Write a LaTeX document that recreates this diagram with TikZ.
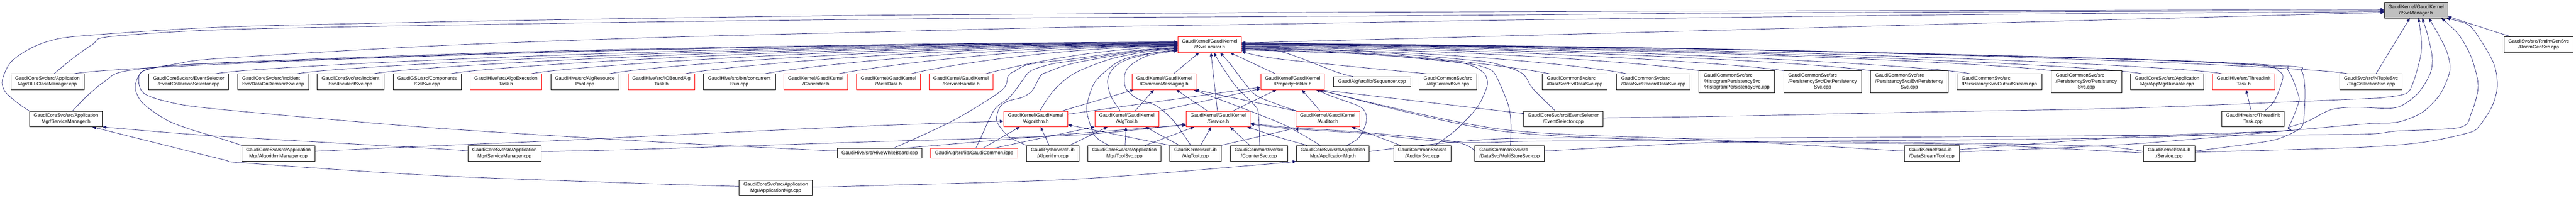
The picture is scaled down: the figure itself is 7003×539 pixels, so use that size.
\documentclass[tikz,border=0pt]{standalone}
\usepackage{fontspec}
\setmainfont{Liberation Sans}
\usetikzlibrary{arrows.meta,backgrounds}
\definecolor{edgeblue}{RGB}{25,25,112}
\definecolor{rootgray}{RGB}{191,191,191}
\newcommand\nfont{\fontsize{13.2pt}{16.2pt}\selectfont}
\newcommand\labC[2]{\begin{tabular}{@{}c@{}}#1\\#2\end{tabular}}
\newcommand\labL[2]{\begin{tabular}{@{}l@{}}#1\\#2\end{tabular}}
\newcommand\labT[3]{\begin{tabular}{@{}l@{}}#1\\#2\\\multicolumn{1}{@{}c@{}}{#3}\end{tabular}}
\tikzset{
  nb/.style={draw=black, fill=white, line width=1pt, inner sep=0pt, minimum height=42.5pt, font=\nfont, text=black},
  nr/.style={nb, draw=red},
  one/.style={minimum height=27pt},
  three/.style={minimum height=59pt},
  lnk/.style={draw=edgeblue, line width=1pt, line join=round, -{Triangle[length=10pt,width=8pt]}},
}
\begin{document}
\begin{tikzpicture}[x=1pt,y=-1pt]
\useasboundingbox (0,0) rectangle (7003,539);
\begin{scope}[on background layer]
\fill[white] (0,0) rectangle (7003,539);
\end{scope}
% rank 0
\node[nb, fill=rootgray, minimum width=172pt] (svcmgr) at (6568,28) {\labC{GaudiKernel/GaudiKernel}{/ISvcManager.h}};
% rank 1
\node[nr, minimum width=173pt] (svcloc) at (3288.5,121.5) {\labC{GaudiKernel/GaudiKernel}{/ISvcLocator.h}};
\node[nb, minimum width=187pt] (rndm) at (6901.5,121.5) {\labC{GaudiSvc/src/RndmGenSvc}{/RndmGenSvc.cpp}};
% rank 2
\node[nb, minimum width=199pt] (dllcm) at (129,222.5) {\labC{GaudiCoreSvc/src/Application}{Mgr/DLLClassManager.cpp}};
\node[nb, minimum width=217pt] (evcolsel) at (513,222.5) {\labC{GaudiCoreSvc/src/EventSelector}{/EventCollectionSelector.cpp}};
\node[nb, minimum width=193pt] (dod) at (742.5,222.5) {\labL{GaudiCoreSvc/src/Incident}{Svc/DataOnDemandSvc.cpp}};
\node[nb, minimum width=181pt] (incsvc) at (953,222.5) {\labC{GaudiCoreSvc/src/Incident}{Svc/IncidentSvc.cpp}};
\node[nb, minimum width=185pt] (gsl) at (1161,222.5) {\labC{GaudiGSL/src/Components}{/GslSvc.cpp}};
\node[nr, minimum width=195pt] (algoexec) at (1375.4,222.5) {\labC{GaudiHive/src/AlgoExecution}{Task.h}};
\node[nb, minimum width=185pt] (algres) at (1590,222.5) {\labC{GaudiHive/src/AlgResource}{Pool.cpp}};
\node[nr, minimum width=181pt] (iobound) at (1798,222.5) {\labC{GaudiHive/src/IOBoundAlg}{Task.h}};
\node[nb, minimum width=196pt] (concrun) at (2010,222.5) {\labC{GaudiHive/src/bin/concurrent}{Run.cpp}};
\node[nr, minimum width=174pt] (converter) at (2218,222.5) {\labC{GaudiKernel/GaudiKernel}{/Converter.h}};
\node[nr, minimum width=174pt] (metadata) at (2415.5,222.5) {\labC{GaudiKernel/GaudiKernel}{/MetaData.h}};
\node[nr, minimum width=173pt] (svchandle) at (2612.7,222.5) {\labC{GaudiKernel/GaudiKernel}{/ServiceHandle.h}};
\node[nr, minimum width=173pt] (commsg) at (3164.7,222.5) {\labC{GaudiKernel/GaudiKernel}{/CommonMessaging.h}};
\node[nr, minimum width=173pt] (propholder) at (3514,222.5) {\labC{GaudiKernel/GaudiKernel}{/PropertyHolder.h}};
\node[nb, one, minimum width=209.5pt] (sequencer) at (3730,222.5) {GaudiAlg/src/lib/Sequencer.cpp};
\node[nb, minimum width=157pt] (algctx) at (3936.5,222.5) {\labC{GaudiCommonSvc/src}{/AlgContextSvc.cpp}};
\node[nb, minimum width=177pt] (evtdata) at (4281,222.5) {\labL{GaudiCommonSvc/src}{/DataSvc/EvtDataSvc.cpp}};
\node[nb, minimum width=200pt] (recdata) at (4494.7,222.5) {\labL{GaudiCommonSvc/src}{/DataSvc/RecordDataSvc.cpp}};
\node[nb, three, minimum width=205pt] (histpers) at (4721.4,222.5) {\labT{GaudiCommonSvc/src}{/HistogramPersistencySvc}{/HistogramPersistencySvc.cpp}};
\node[nb, three, minimum width=212pt] (detpers) at (4954.7,222.5) {\labT{GaudiCommonSvc/src}{/PersistencySvc/DetPersistency}{Svc.cpp}};
\node[nb, three, minimum width=212pt] (evtpers) at (5190.5,222.5) {\labT{GaudiCommonSvc/src}{/PersistencySvc/EvtPersistency}{Svc.cpp}};
\node[nb, minimum width=231pt] (outstream) at (5435.4,222.5) {\labL{GaudiCommonSvc/src}{/PersistencySvc/OutputStream.cpp}};
\node[nb, three, minimum width=192pt] (pers) at (5671.8,222.5) {\labT{GaudiCommonSvc/src}{/PersistencySvc/Persistency}{Svc.cpp}};
\node[nb, minimum width=198pt] (appmgrrun) at (5891.5,222.5) {\labC{GaudiCoreSvc/src/Application}{Mgr/AppMgrRunable.cpp}};
\node[nr, minimum width=170pt] (threadinith) at (6099.6,222.5) {\labC{GaudiHive/src/ThreadInit}{Task.h}};
\node[nb, minimum width=170pt] (tagcol) at (6445.7,222.5) {\labC{GaudiSvc/src/NTupleSvc}{/TagCollectionSvc.cpp}};
% rank 3
\node[nb, minimum width=198pt] (svcmgrh) at (179.4,324) {\labC{GaudiCoreSvc/src/Application}{Mgr/ServiceManager.h}};
\node[nr, minimum width=174pt] (algh) at (2815.6,324) {\labC{GaudiKernel/GaudiKernel}{/Algorithm.h}};
\node[nr, minimum width=174pt] (algtoolh) at (3063.5,324) {\labC{GaudiKernel/GaudiKernel}{/AlgTool.h}};
\node[nr, minimum width=174pt] (svch) at (3311.6,324) {\labC{GaudiKernel/GaudiKernel}{/Service.h}};
\node[nr, minimum width=173pt] (auditorh) at (3609.8,324) {\labC{GaudiKernel/GaudiKernel}{/Auditor.h}};
\node[nb, minimum width=217pt] (evsel) at (4249.9,324) {\labC{GaudiCoreSvc/src/EventSelector}{/EventSelector.cpp}};
\node[nb, minimum width=169pt] (threadinitcpp) at (6124.9,324) {\labC{GaudiHive/src/ThreadInit}{Task.cpp}};
% rank 4
\node[nb, minimum width=199pt] (algmgrcpp) at (756.9,417.5) {\labC{GaudiCoreSvc/src/Application}{Mgr/AlgorithmManager.cpp}};
\node[nb, minimum width=198pt] (svcmgrcpp) at (1371.6,417.5) {\labC{GaudiCoreSvc/src/Application}{Mgr/ServiceManager.cpp}};
\node[nb, one, minimum width=229.6pt] (hivewb) at (2391.6,417.5) {GaudiHive/src/HiveWhiteBoard.cpp};
\node[nr, one, minimum width=236pt] (gaudicommon) at (2648.5,417.5) {GaudiAlg/src/lib/GaudiCommon.icpp};
\node[nb, minimum width=143pt] (pyalg) at (2862,417.5) {\labC{GaudiPython/src/Lib}{/Algorithm.cpp}};
\node[nb, minimum width=199pt] (toolsvc) at (3056.8,417.5) {\labC{GaudiCoreSvc/src/Application}{Mgr/ToolSvc.cpp}};
\node[nb, minimum width=139pt] (algtoolcpp) at (3250,417.5) {\labC{GaudiKernel/src/Lib}{/AlgTool.cpp}};
\node[nb, minimum width=156pt] (countersvc) at (3422.4,417.5) {\labC{GaudiCommonSvc/src}{/CounterSvc.cpp}};
\node[nb, minimum width=198pt] (appmgrh) at (3623.4,417.5) {\labC{GaudiCoreSvc/src/Application}{Mgr/ApplicationMgr.h}};
\node[nb, minimum width=156pt] (auditorsvc) at (3866.5,417.5) {\labC{GaudiCommonSvc/src}{/AuditorSvc.cpp}};
\node[nb, minimum width=190pt] (multistore) at (4103.6,417.5) {\labL{GaudiCommonSvc/src}{/DataSvc/MultiStoreSvc.cpp}};
\node[nb, minimum width=150pt] (datastream) at (5251.6,417.5) {\labL{GaudiKernel/src/Lib}{/DataStreamTool.cpp}};
\node[nb, minimum width=139pt] (servicecpp) at (5897,417.5) {\labC{GaudiKernel/src/Lib}{/Service.cpp}};
% rank 5
\node[nb, minimum width=199pt] (appmgrcpp) at (2109,511.5) {\labC{GaudiCoreSvc/src/Application}{Mgr/ApplicationMgr.cpp}};

\begin{scope}[on background layer]
% ---- into ISvcManager.h
\draw[lnk] plot[smooth] coordinates {(svcmgrh.north west) (50,282) (15,251) (6,220) (27,172) (73,137) (130,113) (220,98) (600,74) (1180,60) (1760,50) (2340,42) (2920,38) (3500,34) (4080,32) (4660,30) (5240,29) (5820,28) ([yshift=2pt]svcmgr.west)};
\draw[lnk] plot[smooth] coordinates {([xshift=18pt]dllcm.north) (199,158) (253,120) (297,100) (600,81) (1180,69) (1760,60) (2340,53) (2920,48) (3500,45) (4080,41) (4660,36) (5240,33) (5820,31) ([yshift=-1pt]svcmgr.west)};
\draw[lnk] ([yshift=4.5pt]svcloc.east) -- ([yshift=-6pt]svcmgr.west);
\draw[lnk] plot[smooth] coordinates {([yshift=6pt]hivewb.west) (2023,399) (1760,385) (1160,347) (580,296) (448,275) (390,253) (377,220) (390,193) (479,174) (600,159) (1180,125) (1760,103) (2340,88) (2920,74) (3500,65) (4080,55) (4660,48) (5240,41) (5820,36) (6300,33) ([yshift=-3.5pt]svcmgr.west)};
\draw[lnk] plot[smooth] coordinates {([yshift=3pt]evsel.east) (4660,317) (5240,305) (5800,294) (6400,270) (6484,265) (6542,254) (6561,223) (6580,155) (6583,113) ([xshift=7pt]svcmgr.south)};
\draw[lnk] plot[smooth] coordinates {([yshift=6pt]multistore.east) (4660,388) (5240,382) (5800,375) (6198,357) (6221,347) (6274,330) (6336,299) (6400,292) (6496,295) (6534,285) (6576,251) (6607,199) (6612,155) (6599,93) ([xshift=17pt]svcmgr.south)};
\draw[lnk] plot[smooth] coordinates {([yshift=4pt]datastream.east) (5800,392) (6400,340) (6496,335) (6536,328) (6588,304) (6634,256) (6660,193) (6653,144) (6630,96) ([xshift=35pt]svcmgr.south)};
\draw[lnk] plot[smooth] coordinates {([yshift=5pt]appmgrh.east) (4080,378) (4660,376) (5240,373) (5800,369) (6400,366) (6515,357) (6687,347) (6718,309) (6737,234) (6718,155) (6683,93) ([xshift=69pt]svcmgr.south)};
\draw[lnk] plot[smooth] coordinates {([yshift=3pt]servicecpp.east) (6400,402) (6584,388) (6706,363) (6737,347) (6775,289) (6789,234) (6779,172) (6733,93) (6706,65) ([xshift=-4pt]svcmgr.south east)};
\draw[lnk] ([xshift=13.6pt]tagcol.north) -- ([xshift=-17pt]svcmgr.south);
\draw[lnk] ([xshift=-76.5pt]rndm.north) -- ([yshift=-17pt]svcmgr.east);
% ---- into ISvcLocator.h from the left
\draw[lnk] plot[smooth] coordinates {(algmgrcpp.north west) (580,371) (517,352) (459,330) (410,299) (383,275) (369,247) (371,220) (390,193) (450,180) (600,172) (1500,141) (2500,122) ([yshift=6.5pt]svcloc.west)};
\draw[lnk] plot[smooth] coordinates {([xshift=17.7pt]svcmgrh.north) (237,261) (287,220) (345,193) (600,171) (1500,139) (2500,120) ([yshift=7.5pt]svcloc.west)};
\draw[lnk] ([xshift=72pt]dllcm.north) .. controls (321,178) and (1851,118) .. ([yshift=5.5pt]svcloc.west);
\draw[lnk] ([xshift=72.8pt]evcolsel.north) .. controls (706,178) and (2025,119) .. ([yshift=4.5pt]svcloc.west);
\draw[lnk] ([xshift=65pt]dod.north) .. controls (928,178) and (2125,120) .. ([yshift=3.5pt]svcloc.west);
\draw[lnk] ([xshift=63pt]incsvc.north) .. controls (1136,178) and (2218,121) .. ([yshift=2.5pt]svcloc.west);
\draw[lnk] ([xshift=64pt]gsl.north) .. controls (1345,178) and (2312,122) .. ([yshift=1.5pt]svcloc.west);
\draw[lnk] ([xshift=68pt]algoexec.north) .. controls (1563,178) and (2410,123) .. ([yshift=0.5pt]svcloc.west);
\draw[lnk] ([xshift=66pt]algres.north) .. controls (1776,178) and (2506,124) .. ([yshift=-0.5pt]svcloc.west);
\draw[lnk] ([xshift=64.5pt]iobound.north) .. controls (1982,178) and (2599,125) .. ([yshift=-1.5pt]svcloc.west);
\draw[lnk] ([xshift=69pt]concrun.north) .. controls (2199,178) and (2697,126) .. ([yshift=-2.5pt]svcloc.west);
\draw[lnk] ([xshift=62pt]converter.north) .. controls (2400,178) and (2787,127) .. ([yshift=-3.5pt]svcloc.west);
\draw[lnk] ([xshift=61.5pt]metadata.north) .. controls (2560,180) and (2876,128) .. ([yshift=-4.5pt]svcloc.west);
\draw[lnk] ([xshift=67pt]svchandle.north) .. controls (2740,185) and (2967,130) .. ([yshift=-6.5pt]svcloc.west);
\draw[lnk] plot[smooth] coordinates {([xshift=37.4pt]hivewb.north) (2588,330) (2722,247) (2741,206) (2760,193) (2799,175) (2920,160) (3100,136) ([yshift=-8.5pt]svcloc.west)};
\draw[lnk] plot[smooth] coordinates {([xshift=4.5pt]gaudicommon.north) (2665,378) (2703,299) (2741,268) (2764,241) (2779,220) (2802,193) (2856,175) (2920,165) (3100,138) ([yshift=-9.5pt]svcloc.west)};
\draw[lnk] plot[smooth] coordinates {(pyalg.north west) (2741,371) (2710,330) (2718,292) (2741,275) (2779,265) (2806,247) (2829,206) (2848,196) (2920,172) (3100,140) ([yshift=-10.5pt]svcloc.west)};
\draw[lnk] plot[smooth] coordinates {([xshift=11pt]algh.north) (2864,247) (2920,200) (3015,162) (3110,142) ([yshift=-11.5pt]svcloc.west)};
\draw[lnk] plot[smooth] coordinates {([xshift=-18pt]algtoolh.north) (3020,262) (3011,220) (3026,186) (3065,162) (3137,144) ([yshift=-13.5pt]svcloc.west)};
\draw[lnk] plot[smooth] coordinates {([xshift=-42pt]toolsvc.north) (2977,371) (2958,320) (2955,285) (2977,223) (3034,172) (3091,151) ([yshift=-15pt]svcloc.west)};
\draw[lnk] plot[smooth] coordinates {([xshift=-13pt]algtoolcpp.north) (3191,330) (3145,289) (3091,268) (3061,241) (3057,206) (3072,179) (3122,151) ([yshift=-16.5pt]svcloc.west)};
% ---- into ISvcLocator.h from below
\draw[lnk] ([xshift=26pt]commsg.north) -- ([xshift=-28.5pt]svcloc.south);
\draw[lnk] ([xshift=-2pt]svch.north) -- ([xshift=3.5pt]svcloc.south);
\draw[lnk] plot[smooth] coordinates {([xshift=2pt]countersvc.north) (3421,309) (3409,285) (3359,234) (3321,179) ([xshift=11.5pt]svcloc.south)};
\draw[lnk] plot[smooth] coordinates {([xshift=4pt]auditorh.north west) (3500,294) (3417,261) (3379,220) (3345,175) ([xshift=28.5pt]svcloc.south)};
\draw[lnk] ([xshift=-47pt]propholder.north) -- ([xshift=55.5pt]svcloc.south);
% ---- into ISvcLocator.h from the right
\draw[lnk] plot[smooth] coordinates {([xshift=-51pt]sequencer.north) (3633,196) (3480,140) ([yshift=-16.5pt]svcloc.east)};
\draw[lnk] plot[smooth] coordinates {([xshift=-58.5pt]algctx.north) (3480,161) ([yshift=-18.5pt]svcloc.east)};
\draw[lnk] plot[smooth] coordinates {([xshift=-21.4pt]evsel.north) (4167,241) (4137,199) (4060,172) (3978,162) (3700,140) ([yshift=-10.5pt]svcloc.east)};
\draw[lnk] plot[smooth] coordinates {([xshift=2.4pt]multistore.north) (4108,344) (4102,292) (4083,241) (4060,196) (4031,182) (3978,172) (3700,146) ([yshift=-12.5pt]svcloc.east)};
\draw[lnk] plot[smooth] coordinates {([xshift=34.6pt]auditorsvc.north) (3958,354) (4016,292) (4043,234) (4039,206) (4027,193) (4001,179) (3939,166) (3700,147) ([yshift=-14.5pt]svcloc.east)};
\draw[lnk] ([xshift=-68pt]evtdata.north) .. controls (4093,178) and (3752,135) .. ([yshift=-11.5pt]svcloc.east);
\draw[lnk] ([xshift=-72.7pt]recdata.north) .. controls (4302,176) and (3846,133) .. ([yshift=-9.5pt]svcloc.east);
\draw[lnk] (histpers.north west) .. controls (4499,172) and (3935,131) .. ([yshift=-7.5pt]svcloc.east);
\draw[lnk] (detpers.north west) .. controls (4729,172) and (4038,129) .. ([yshift=-5.5pt]svcloc.east);
\draw[lnk] (evtpers.north west) .. controls (4964,172) and (4144,127) .. ([yshift=-3.5pt]svcloc.east);
\draw[lnk] ([xshift=-79.4pt]outstream.north) .. controls (5236,176) and (4265,125) .. ([yshift=-1.5pt]svcloc.east);
\draw[lnk] (pers.north west) .. controls (5456,172) and (4365,124) .. ([yshift=-0.5pt]svcloc.east);
\draw[lnk] ([xshift=-68.5pt]appmgrrun.north) .. controls (5703,176) and (4477,123) .. ([yshift=0.5pt]svcloc.east);
\draw[lnk] ([xshift=-58.6pt]threadinith.north) .. controls (5921,176) and (4575,122) .. ([yshift=1.5pt]svcloc.east);
\draw[lnk] ([xshift=-63.7pt]tagcol.north) .. controls (6262,176) and (4721,121) .. ([yshift=2.5pt]svcloc.east);
\draw[lnk] plot[smooth] coordinates {([xshift=31pt]threadinitcpp.north) (6183,275) (6206,213) (6194,193) (6145,179) (5800,162) (4700,135) (3900,124) ([yshift=3.5pt]svcloc.east)};
\draw[lnk] plot[smooth] coordinates {([yshift=6pt]servicecpp.east) (6145,388) (6202,375) (6256,347) (6264,309) (6266,241) (6257,193) (6221,180) (5800,161) (4700,134) (3900,123) ([yshift=4.5pt]svcloc.east)};
\draw[lnk] plot[smooth] coordinates {([yshift=10pt]datastream.east) (5800,372) (6198,357) (6221,347) (6248,282) (6248,258) (6221,193) (6183,180) (5800,162) (4700,135) (3900,124) ([yshift=5.5pt]svcloc.east)};
% ---- rank 3 headers
\draw[lnk] ([xshift=71.5pt]algh.north) -- ([xshift=-82pt]commsg.south);
\draw[lnk] ([yshift=13pt]algh.east) -- ([yshift=-15pt]propholder.west);
\draw[lnk] ([xshift=22pt]algtoolh.north) -- ([xshift=-27.7pt]commsg.south);
\draw[lnk] (algtoolh.north east) -- ([yshift=-19pt]propholder.west);
\draw[lnk] ([xshift=-28.8pt]svch.north) -- ([xshift=33pt]commsg.south);
\draw[lnk] ([xshift=40pt]svch.north) -- ([xshift=-44pt]propholder.south);
\draw[lnk] ([xshift=-21pt]auditorh.north) -- ([xshift=25pt]propholder.south);
\draw[lnk] (auditorh.north west) -- ([xshift=84pt]commsg.south);
\draw[lnk] plot[smooth] coordinates {([yshift=15pt]evsel.west) (4080,302) ([xshift=74pt]propholder.south)};
\draw[lnk] ([xshift=-5pt]threadinitcpp.north) -- ([xshift=6.5pt]threadinith.south);
% ---- rank 4 and 5
\draw[lnk] plot[smooth] coordinates {([yshift=5.5pt]algmgrcpp.east) (1160,398) (1472,385) (1760,371) (2340,344) ([yshift=-6pt]algh.west)};
\draw[lnk] plot[smooth] coordinates {([yshift=6.5pt]svcmgrcpp.west) (1170,404) (580,370) (svcmgrh.south east)};
\draw[lnk] plot[smooth] coordinates {([yshift=4.5pt]svcmgrcpp.east) (1760,406) (2340,387) (2920,368) ([yshift=-14pt]svch.west)};
\draw[lnk] plot[smooth] coordinates {([xshift=66.5pt]hivewb.north) (2920,364) ([yshift=-17pt]svch.west)};
\draw[lnk] ([xshift=23.5pt]gaudicommon.north) -- ([xshift=-43.5pt]algh.south);
\draw[lnk] plot[smooth] coordinates {([xshift=54.5pt]gaudicommon.north) (2920,357) (algtoolh.south west)};
\draw[lnk] ([xshift=-10pt]pyalg.north) -- ([xshift=13.5pt]algh.south);
\draw[lnk] ([xshift=46pt]pyalg.north) -- ([xshift=-52.5pt]algtoolh.south);
\draw[lnk] ([xshift=2pt]toolsvc.north) -- ([xshift=-2.5pt]algtoolh.south);
\draw[lnk] ([xshift=57pt]toolsvc.north) -- ([xshift=-65pt]svch.south);
\draw[lnk] ([xshift=-44pt]algtoolcpp.north) -- ([xshift=50.5pt]algtoolh.south);
\draw[lnk] ([xshift=14pt]algtoolcpp.north) -- ([xshift=-19.5pt]svch.south);
\draw[lnk] (algtoolcpp.north west) -- ([yshift=-16pt]algh.east);
\draw[lnk] plot[smooth] coordinates {(algtoolcpp.north east) (3500,354) ([xshift=-80pt]auditorh.south)};
\draw[lnk] ([xshift=-24.7pt]countersvc.north) -- ([xshift=32.5pt]svch.south);
\draw[lnk] plot[smooth] coordinates {([xshift=-34.5pt]appmgrh.north) (3480,335) ([xshift=80pt]commsg.south)};
\draw[lnk] plot[smooth] coordinates {([xshift=-70pt]appmgrh.north) (3480,375) ([xshift=79pt]svch.south)};
\draw[lnk] plot[smooth] coordinates {([xshift=38.5pt]appmgrh.north) (3694,375) (3713,337) (3713,309) (3694,289) (3620,262) ([xshift=64pt]propholder.south)};
\draw[lnk] ([xshift=-59.5pt]auditorsvc.north) -- ([xshift=65pt]auditorh.south);
\draw[lnk] plot[smooth] coordinates {([yshift=8pt]multistore.west) (3950,385) (3700,360) (3500,347) ([yshift=-12pt]svch.east)};
\draw[lnk] plot[smooth] coordinates {([yshift=5pt]servicecpp.west) (5700,398) (5326,390) (4700,384) (4200,384) (3960,388) (3700,363) (3500,350) ([yshift=-14pt]svch.east)};
\draw[lnk] plot[smooth] coordinates {([yshift=1pt]servicecpp.west) (5326,393) (4700,386) (4080,357) ([xshift=72pt]propholder.south)};
\draw[lnk] plot[smooth] coordinates {([yshift=6pt]datastream.west) (4660,381) (4080,352) ([xshift=70pt]propholder.south)};
\draw[lnk] plot[smooth] coordinates {([yshift=2pt]appmgrcpp.east) (2320,507) (2920,488) (3420,449) (appmgrh.south west)};
\draw[lnk] plot[smooth] coordinates {([yshift=4pt]appmgrcpp.west) (1760,500) (1180,478) (657,443) (600,433) ([xshift=-28pt]svcmgrh.south east)};
\end{scope}
\end{tikzpicture}
\end{document}
